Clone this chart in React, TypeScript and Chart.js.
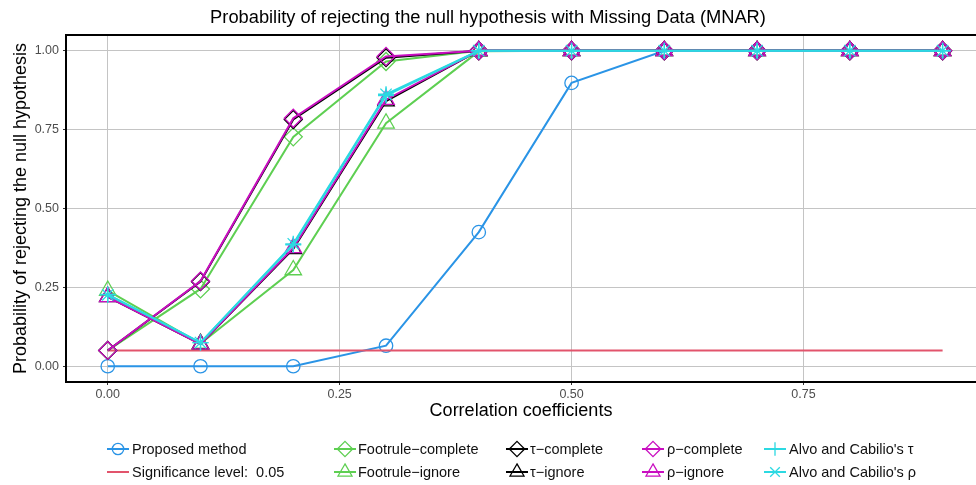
import React, { useEffect, useRef } from "react";
import { Chart, registerables } from "chart.js";

Chart.register(...registerables);

// ---------- data ----------
const correlations = [0, 0.1, 0.2, 0.3, 0.4, 0.5, 0.6, 0.7, 0.8, 0.9];
const proposedMethod = [0, 0, 0, 0.065, 0.425, 0.898, 1, 1, 1, 1];
const significanceLevel = [0.05, 0.05, 0.05, 0.05, 0.05, 0.05, 0.05, 0.05, 0.05, 0.05];
const footruleComplete = [0.05, 0.245, 0.727, 0.966, 1, 1, 1, 1, 1, 1];
const footruleIgnore = [0.24, 0.072, 0.305, 0.77, 0.998, 1, 1, 1, 1, 1];
const tauComplete = [0.05, 0.268, 0.782, 0.978, 1, 1, 1, 1, 1, 1];
const tauIgnore = [0.22, 0.07, 0.372, 0.84, 1, 1, 1, 1, 1, 1];
const rhoComplete = [0.05, 0.27, 0.786, 0.982, 1, 1, 1, 1, 1, 1];
const rhoIgnore = [0.22, 0.07, 0.375, 0.845, 1, 1, 1, 1, 1, 1];
const alvoTau = [0.228, 0.075, 0.385, 0.858, 1, 1, 1, 1, 1, 1];
const alvoRho = [0.226, 0.075, 0.388, 0.862, 1, 1, 1, 1, 1, 1];

const xTicks = [0, 0.25, 0.5, 0.75];
const yTicks = [0, 0.25, 0.5, 0.75, 1];

const titleText = "Probability of rejecting the null hypothesis with Missing Data (MNAR)";
const xTitle = "Correlation coefficients";
const yTitle = "Probability of rejecting the null hypothesis";

// ---------- styles ----------
const FONT = '"Liberation Sans", Arial, Helvetica, sans-serif';
const BLUE = "#2A94E6";
const RED = "#E2546C";
const GREEN = "#5ECF52";
const BLACK = "#000000";
const MAGENTA = "#C90FC0";
const CYAN = "#2CD9E2";

type Marker = "circle" | "rectRot" | "triangle" | "cross" | "star" | "none";

const series: { label: string; data: number[]; color: string; marker: Marker; radius: number }[] = [
  { label: "Proposed method", data: proposedMethod, color: BLUE, marker: "circle", radius: 6.7 },
  { label: "Significance level:  0.05", data: significanceLevel, color: RED, marker: "none", radius: 0 },
  { label: "Footrule\u2212complete", data: footruleComplete, color: GREEN, marker: "rectRot", radius: 9 },
  { label: "Footrule\u2212ignore", data: footruleIgnore, color: GREEN, marker: "triangle", radius: 9.5 },
  { label: "\u03c4\u2212complete", data: tauComplete, color: BLACK, marker: "rectRot", radius: 9 },
  { label: "\u03c4\u2212ignore", data: tauIgnore, color: BLACK, marker: "triangle", radius: 9.5 },
  { label: "\u03c1\u2212complete", data: rhoComplete, color: MAGENTA, marker: "rectRot", radius: 9 },
  { label: "\u03c1\u2212ignore", data: rhoIgnore, color: MAGENTA, marker: "triangle", radius: 9.5 },
  { label: "Alvo and Cabilio's \u03c4", data: alvoTau, color: CYAN, marker: "cross", radius: 8 },
  { label: "Alvo and Cabilio's \u03c1", data: alvoRho, color: CYAN, marker: "star", radius: 8 },
];

// legend layout (pixels)
const legendSymbolX = [118, 345, 517, 653, 775];
const legendTextX = [132, 358, 530, 667, 789];
const legendRowY = [449, 472];

function drawMarker(ctx: CanvasRenderingContext2D, m: Marker, x: number, y: number, r: number) {
  ctx.beginPath();
  switch (m) {
    case "circle":
      ctx.arc(x, y, r, 0, Math.PI * 2);
      break;
    case "rectRot":
      ctx.moveTo(x, y - r);
      ctx.lineTo(x + r, y);
      ctx.lineTo(x, y + r);
      ctx.lineTo(x - r, y);
      ctx.closePath();
      break;
    case "triangle": {
      const a = r * Math.sin((2 * Math.PI) / 3);
      ctx.moveTo(x, y - r);
      ctx.lineTo(x + a, y + r / 2);
      ctx.lineTo(x - a, y + r / 2);
      ctx.closePath();
      break;
    }
    case "cross":
      ctx.moveTo(x - r, y);
      ctx.lineTo(x + r, y);
      ctx.moveTo(x, y - r);
      ctx.lineTo(x, y + r);
      break;
    case "star": {
      ctx.moveTo(x - r, y);
      ctx.lineTo(x + r, y);
      const d = r * Math.SQRT1_2;
      ctx.moveTo(x - d, y - d);
      ctx.lineTo(x + d, y + d);
      ctx.moveTo(x - d, y + d);
      ctx.lineTo(x + d, y - d);
      break;
    }
    default:
      return;
  }
  ctx.stroke();
}

const framePlugin = {
  id: "frame",
  afterDatasetsDraw(chart: any) {
    const { ctx, chartArea } = chart;
    ctx.save();
    ctx.strokeStyle = "#000";
    ctx.lineWidth = 2;
    ctx.beginPath();
    ctx.moveTo(chartArea.right + 2, chartArea.top);
    ctx.lineTo(chartArea.left, chartArea.top);
    ctx.lineTo(chartArea.left, chartArea.bottom);
    ctx.lineTo(chartArea.right + 2, chartArea.bottom);
    ctx.stroke();
    ctx.restore();
  },
};

const legendPlugin = {
  id: "customLegend",
  afterDraw(chart: any) {
    const ctx: CanvasRenderingContext2D = chart.ctx;
    ctx.save();
    series.forEach((s, i) => {
      const col = Math.floor(i / 2);
      const row = i % 2;
      const cx = legendSymbolX[col];
      const cy = legendRowY[row];
      ctx.strokeStyle = s.color;
      ctx.lineWidth = 2;
      ctx.beginPath();
      ctx.moveTo(cx - 11, cy);
      ctx.lineTo(cx + 11, cy);
      ctx.stroke();
      ctx.lineWidth = 1.3;
      drawMarker(ctx, s.marker, cx, cy, s.radius * 0.85);
      ctx.fillStyle = "#111";
      ctx.font = `14.5px ${FONT}`;
      ctx.textBaseline = "middle";
      ctx.textAlign = "left";
      ctx.fillText(s.label, legendTextX[col], cy + 0.5);
    });
    ctx.restore();
  },
};

export default function App() {
  const canvasRef = useRef<HTMLCanvasElement | null>(null);

  useEffect(() => {
    document.body.style.margin = "0";
    document.body.style.overflow = "hidden";
    const canvas = canvasRef.current;
    if (!canvas) return;

    const datasets = series.map((s, i) => ({
      label: s.label,
      data: correlations.map((x, k) => ({ x, y: s.data[k] })),
      borderColor: s.color,
      backgroundColor: "rgba(0,0,0,0)",
      borderWidth: 2,
      pointStyle: s.marker === "none" ? "circle" : s.marker,
      pointRadius: s.radius,
      pointHoverRadius: s.radius,
      pointBorderWidth: 1.3,
      pointBorderColor: s.color,
      pointBackgroundColor: "rgba(0,0,0,0)",
      tension: 0,
      order: series.length - i,
    }));

    const chart = new Chart(canvas, {
      type: "line",
      data: { datasets: datasets as any },
      plugins: [framePlugin, legendPlugin],
      options: {
        animation: false,
        responsive: false,
        devicePixelRatio: 1,
        layout: { autoPadding: false, padding: { left: 0, right: 0, top: 0, bottom: 65 } },
        plugins: {
          legend: { display: false },
          tooltip: { enabled: false },
          title: {
            display: true,
            text: titleText,
            color: "#000",
            font: { family: FONT, size: 18.3, weight: "normal" as any, lineHeight: 1.2 },
            padding: { top: 7, bottom: 6 },
          },
        },
        scales: {
          x: {
            type: "linear",
            min: -0.045,
            max: 0.936,
            afterBuildTicks: (scale: any) => {
              scale.ticks = xTicks.map((v) => ({ value: v }));
            },
            afterFit: (scale: any) => {
              scale.height = 38;
              scale.paddingLeft = 0;
              scale.paddingRight = 0;
            },
            grid: {
              color: "#c4c4c4",
              lineWidth: 1,
              drawTicks: true,
              tickLength: 3,
              tickColor: "#333",
            },
            border: { display: false },
            ticks: {
              color: "#4d4d4d",
              font: { family: FONT, size: 12.5 },
              padding: 2,
              maxRotation: 0,
              callback: (v: any) => Number(v).toFixed(2),
            },
            title: {
              display: true,
              text: xTitle,
              color: "#000",
              font: { family: FONT, size: 18, lineHeight: 1.0 },
              padding: { top: 0, bottom: 0 },
            },
          },
          y: {
            type: "linear",
            min: -0.05,
            max: 1.05,
            afterBuildTicks: (scale: any) => {
              scale.ticks = yTicks.map((v) => ({ value: v }));
            },
            afterFit: (scale: any) => {
              scale.width = 66;
            },
            grid: {
              color: "#c4c4c4",
              lineWidth: 1,
              drawTicks: true,
              tickLength: 3,
              tickColor: "#333",
            },
            border: { display: false },
            ticks: {
              color: "#4d4d4d",
              font: { family: FONT, size: 12.5 },
              padding: 4,
              callback: (v: any) => Number(v).toFixed(2),
            },
            title: {
              display: true,
              text: yTitle,
              color: "#000",
              font: { family: FONT, size: 18, lineHeight: 1.2 },
              padding: { top: 10, bottom: 0 },
            },
          },
        },
      },
    });

    return () => {
      chart.destroy();
    };
  }, []);

  return (
    <div style={{ width: 976, height: 485, position: "relative", background: "#fff" }}>
      <canvas ref={canvasRef} width={976} height={485} style={{ display: "block" }} />
    </div>
  );
}
